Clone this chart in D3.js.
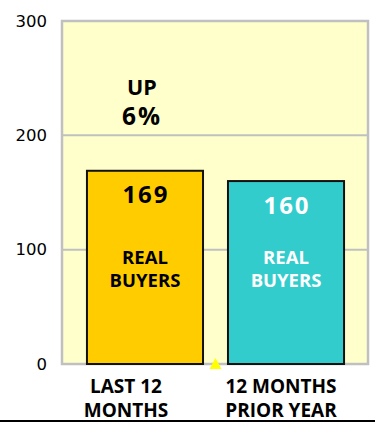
<!DOCTYPE html>
<html>
<head>
<meta charset="utf-8">
<script src="https://cdn.jsdelivr.net/npm/d3@7"></script>
<style>
  html, body { margin: 0; padding: 0; background: #ffffff; }
  svg { display: block; }
</style>
</head>
<body>
<svg id="chart" width="375" height="422"></svg>
<script>
// Buyer counts for the two periods
const categories = ["LAST 12|MONTHS", "12 MONTHS|PRIOR YEAR"];
const buyers = [169, 160];
const barColors = ["#FFCC00", "#33CCCC"];
const valueColors = ["#000000", "#ffffff"];
const innerLabel = ["REAL", "BUYERS"];
const yTicks = [0, 100, 200, 300];

const svg = d3.select("#chart");
const W = 375, H = 422;
const plot = { left: 62, right: 368, top: 21, bottom: 364 };

const y = d3.scaleLinear().domain([0, 300]).range([plot.bottom, plot.top]);
const x = d3.scaleBand()
  .domain(categories)
  .range([plot.left, plot.right + 1])
  .paddingInner(0.177)
  .paddingOuter(0.177);

const sans = "'Open Sans', 'Noto Sans', sans-serif";

// plot background
svg.append("rect")
  .attr("x", plot.left).attr("y", plot.top)
  .attr("width", plot.right - plot.left)
  .attr("height", plot.bottom - plot.top)
  .attr("fill", "#FFFFCC");

// gridlines
svg.append("g")
  .selectAll("line")
  .data(yTicks.filter(t => t > 0 && t < 300))
  .join("line")
  .attr("x1", plot.left).attr("x2", plot.right)
  .attr("y1", d => y(d)).attr("y2", d => y(d))
  .attr("stroke", "#C0C0C0").attr("stroke-width", 2);

// frame
svg.append("rect")
  .attr("x", plot.left).attr("y", plot.top)
  .attr("width", plot.right - plot.left)
  .attr("height", plot.bottom - plot.top)
  .attr("fill", "none")
  .attr("stroke", "#C0C0C0").attr("stroke-width", 2.5);

// y axis labels
const yAxis = d3.axisLeft(y).tickValues(yTicks).tickSize(0).tickPadding(15);
const gy = svg.append("g").attr("transform", `translate(${plot.left},0)`).call(yAxis);
gy.select(".domain").remove();
gy.selectAll("text")
  .attr("font-family", "'DejaVu Sans', sans-serif")
  .attr("font-size", 16.5)
  .attr("fill", "#000");

// bars
svg.append("g")
  .selectAll("rect")
  .data(buyers)
  .join("rect")
  .attr("x", (d, i) => x(categories[i]))
  .attr("y", d => y(d))
  .attr("width", x.bandwidth())
  .attr("height", d => y(0) - y(d))
  .attr("fill", (d, i) => barColors[i])
  .attr("stroke", "#111")
  .attr("stroke-width", 2);

// value labels
svg.append("g")
  .selectAll("text")
  .data(buyers)
  .join("text")
  .attr("x", (d, i) => x(categories[i]) + x.bandwidth() / 2 + 1)
  .attr("y", d => y(d) + 32.5)
  .attr("text-anchor", "middle")
  .attr("font-family", sans)
  .attr("font-weight", 700)
  .attr("font-size", 24)
  .attr("letter-spacing", 2)
  .attr("fill", (d, i) => valueColors[i])
  .text(d => d);

// "REAL BUYERS" inside each bar
buyers.forEach((d, i) => {
  const cx = x(categories[i]) + x.bandwidth() / 2;
  svg.append("text")
    .attr("x", cx)
    .attr("text-anchor", "middle")
    .attr("font-family", sans)
    .attr("font-weight", 700)
    .attr("font-size", 18.5)
    .attr("fill", valueColors[i])
    .selectAll("tspan")
    .data(innerLabel)
    .join("tspan")
    .attr("x", cx)
    .attr("y", (t, j) => y(0) - 100.5 + j * 23.5)
    .text(t => t);
});

// change annotation above the first bar
const change = Math.round((buyers[0] - buyers[1]) / buyers[1] * 100);
const ann = svg.append("text")
  .attr("text-anchor", "middle")
  .attr("font-family", sans)
  .attr("font-weight", 700)
  .attr("fill", "#000");
const annX = x(categories[0]) + x.bandwidth() / 2 - 3;
ann.append("tspan").attr("x", annX).attr("y", 95).attr("font-size", 21.5).text("UP");
ann.append("tspan").attr("x", annX).attr("y", 125).attr("font-size", 24.5)
  .attr("letter-spacing", 2).text(change + "%");

// category labels under the axis
const labelShift = [-19, -5];
categories.forEach((c, i) => {
  const cx = x(c) + x.bandwidth() / 2 + labelShift[i];
  svg.append("text")
    .attr("text-anchor", "middle")
    .attr("font-family", sans)
    .attr("font-weight", 700)
    .attr("font-size", 19)
    .attr("fill", "#000")
    .selectAll("tspan")
    .data(c.split("|"))
    .join("tspan")
    .attr("x", cx)
    .attr("y", (t, j) => 392.5 + j * 24)
    .text(t => t);
});

// small marker between the bars on the baseline
const midX = (x(categories[0]) + x.bandwidth() + x(categories[1])) / 2;
svg.append("path")
  .attr("d", `M${midX - 6},${y(0) + 5} L${midX + 6},${y(0) + 5} L${midX},${y(0) - 6} Z`)
  .attr("fill", "#FFFF00");

// rule along the bottom edge
svg.append("rect")
  .attr("x", 0).attr("y", 420)
  .attr("width", W).attr("height", 2)
  .attr("fill", "#000");
</script>
</body>
</html>
